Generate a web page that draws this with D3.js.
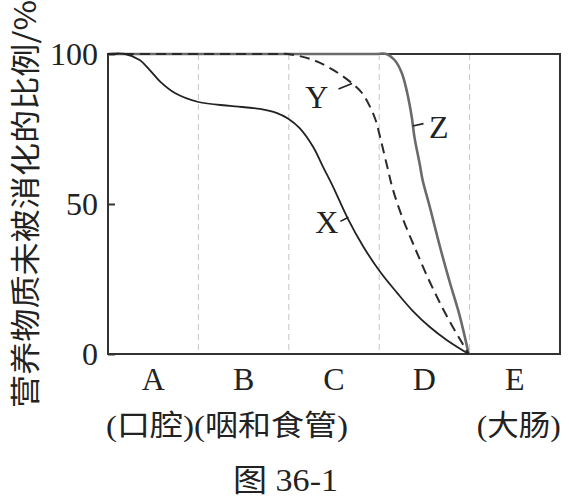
<!DOCTYPE html>
<html>
<head>
<meta charset="utf-8">
<script src="https://cdn.jsdelivr.net/npm/d3@7"></script>
<style>
  body { margin: 0; background: #fff; }
  svg { display: block; }
  text { fill: #222; }
</style>
</head>
<body>
<script>
const w = 569;
const h = 498;

// regions along the digestive tract
const categories = ["A", "B", "C", "D", "E"];
const organLabels = ["(口腔)(咽和食管)", "(大肠)"];
const yTicks = [0, 50, 100];

// position along tract (0-5, one unit per region), % not digested
const xPos = [0, 0.19, 0.35, 0.46, 0.58, 0.74, 1.0, 1.35, 1.68, 1.87, 1.99, 2.12, 2.27, 2.38, 2.49, 2.65, 2.82, 3.01, 3.20, 3.37, 3.56, 3.75, 3.99];
const xVal = [100, 100, 98, 94.7, 90.7, 87, 84, 82.7, 81.7, 80.3, 78.5, 75.3, 69, 62.3, 55.7, 45.3, 36, 27.4, 20.3, 14.4, 9, 4.6, 0];

const yPos = [0, 0.7, 1.4, 1.85, 1.99, 2.27, 2.49, 2.68, 2.81, 2.90, 2.96, 3.01, 3.09, 3.15, 3.25, 3.40, 3.56, 3.75, 3.99];
const yVal = [100, 100, 100, 100, 100, 98, 94.7, 90.7, 87, 82.3, 78, 72.3, 62.3, 55, 46, 35, 24, 12.5, 0];

const zPos = [0, 0.8, 1.6, 2.4, 2.95, 3.08, 3.17, 3.25, 3.31, 3.36, 3.39, 3.45, 3.48, 3.56, 3.67, 3.78, 3.89, 3.99];
const zVal = [100, 100, 100, 100, 100, 100, 98, 93.7, 87, 79, 72.3, 63, 58, 49, 36, 24, 12.8, 0];

// curve name labels: text spot and leader line, in data units
const curveNames = ["X", "Y", "Z"];
const namePos = [[2.42, 44], [2.31, 85.7], [3.66, 75.7]];
const leaderFrom = [[2.57, 44.2], [2.55, 88.3], [3.37, 76.0]];
const leaderTo = [[2.66, 45.6], [2.70, 90.2], [3.49, 76.8]];

const svg = d3.select("body").append("svg").attr("width", w).attr("height", h);

const pLeft = 108, pRight = 560, pTop = 54, pBottom = 354;
const x = d3.scaleLinear().domain([0, 5]).range([pLeft, pRight]);
const y = d3.scaleLinear().domain([0, 100]).range([pBottom, pTop]);
const band = d3.scaleBand().domain(categories).range([pLeft, pRight]);

const serif = "'Liberation Serif', 'DejaVu Serif', serif";
const cjk = "'Liberation Serif', 'Noto Sans CJK SC', serif";

// region dividers
svg.selectAll("line.div")
  .data(categories.slice(1))
  .enter()
  .append("line")
  .attr("class", "div")
  .attr("x1", (d) => band(d))
  .attr("x2", (d) => band(d))
  .attr("y1", pTop)
  .attr("y2", pBottom)
  .attr("stroke", "#c4c4c4")
  .attr("stroke-width", 1)
  .attr("stroke-dasharray", "6,4");

// frame
svg.append("rect")
  .attr("x", pLeft)
  .attr("y", pTop)
  .attr("width", pRight - pLeft)
  .attr("height", pBottom - pTop)
  .attr("fill", "none")
  .attr("stroke", "#333")
  .attr("stroke-width", 2);

// y axis
const yAxis = d3.axisLeft(y).tickValues(yTicks).tickSize(-7).tickPadding(10);
const gy = svg.append("g")
  .attr("transform", "translate(" + pLeft + ",0)")
  .call(yAxis);
gy.select(".domain").remove();
gy.selectAll("line").attr("stroke", "#333").attr("stroke-width", 2);
gy.selectAll("text")
  .style("font-family", serif)
  .style("font-size", "32px")
  .attr("fill", "#222");

// category letters
svg.selectAll("text.cat")
  .data(categories)
  .enter()
  .append("text")
  .attr("class", "cat")
  .attr("x", (d) => band(d) + band.bandwidth() / 2)
  .attr("y", 390)
  .attr("text-anchor", "middle")
  .style("font-family", serif)
  .style("font-size", "32px")
  .text((d) => d);

svg.append("text")
  .attr("x", pLeft - 2)
  .attr("y", 436)
  .attr("textLength", 242)
  .attr("lengthAdjust", "spacingAndGlyphs")
  .style("font-family", cjk)
  .style("font-size", "29px")
  .text(organLabels[0]);

svg.append("text")
  .attr("x", band("E") + band.bandwidth() / 2 + 4)
  .attr("y", 436)
  .attr("text-anchor", "middle")
  .attr("textLength", 84)
  .attr("lengthAdjust", "spacingAndGlyphs")
  .style("font-family", cjk)
  .style("font-size", "29px")
  .text(organLabels[1]);

// y title
svg.append("text")
  .attr("transform", "translate(36," + 408 + ") rotate(-90)")
  .attr("textLength", 408)
  .attr("lengthAdjust", "spacingAndGlyphs")
  .style("font-family", "'Noto Sans CJK SC', sans-serif")
  .style("font-size", "30px")
  .text("营养物质未被消化的比例/%");

// caption
svg.append("text")
  .attr("x", 233)
  .attr("y", 491)
  .attr("textLength", 105)
  .attr("lengthAdjust", "spacingAndGlyphs")
  .style("font-family", cjk)
  .style("font-size", "31px")
  .text("图 36-1");

// curves
const line = d3.line()
  .x((d) => x(d[0]))
  .y((d) => y(d[1]))
  .curve(d3.curveCatmullRom.alpha(0.5));

const series = [
  { pts: d3.zip(zPos, zVal), color: "#6a6a6a", width: 2.6, dash: null },
  { pts: d3.zip(yPos, yVal), color: "#2a2a2a", width: 2, dash: "10,6" },
  { pts: d3.zip(xPos, xVal), color: "#222", width: 1.8, dash: null }
];

svg.selectAll("path.curve")
  .data(series)
  .enter()
  .append("path")
  .attr("class", "curve")
  .attr("d", (d) => line(d.pts))
  .attr("fill", "none")
  .attr("stroke", (d) => d.color)
  .attr("stroke-width", (d) => d.width)
  .attr("stroke-dasharray", (d) => d.dash);

// curve name labels
svg.selectAll("line.lead")
  .data(curveNames)
  .enter()
  .append("line")
  .attr("class", "lead")
  .attr("x1", (d, i) => x(leaderFrom[i][0]))
  .attr("y1", (d, i) => y(leaderFrom[i][1]))
  .attr("x2", (d, i) => x(leaderTo[i][0]))
  .attr("y2", (d, i) => y(leaderTo[i][1]))
  .attr("stroke", "#222")
  .attr("stroke-width", 1.6);

svg.selectAll("text.name")
  .data(curveNames)
  .enter()
  .append("text")
  .attr("class", "name")
  .attr("x", (d, i) => x(namePos[i][0]))
  .attr("y", (d, i) => y(namePos[i][1]))
  .attr("dy", "0.35em")
  .attr("text-anchor", "middle")
  .style("font-family", serif)
  .style("font-size", "32px")
  .text((d) => d);
</script>
</body>
</html>
